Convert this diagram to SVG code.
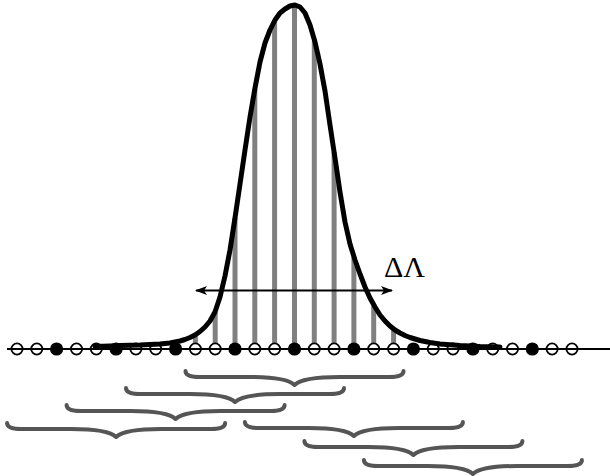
<svg xmlns="http://www.w3.org/2000/svg" width="610" height="476" viewBox="0 0 610 476">
<style>
.bar{stroke:#808080;stroke-width:5;fill:none}
.base{stroke:#000;stroke-width:2}
.oc{fill:#fff;stroke:#000;stroke-width:1.8}
.fc{fill:#000}
.curve{fill:none;stroke:#000;stroke-width:5;stroke-linejoin:round;stroke-linecap:round}
.arr{stroke:#000;stroke-width:2;marker-start:url(#ah);marker-end:url(#ah)}
.brace{fill:none;stroke:#555;stroke-width:4;stroke-linecap:round;stroke-linejoin:round}
.lbl{font-family:"Liberation Serif","Times New Roman",serif;font-size:30px;fill:#000}
</style>
<defs>
<marker id="ah" viewBox="0 0 12 10" refX="11" refY="5" markerWidth="12" markerHeight="10" markerUnits="userSpaceOnUse" orient="auto-start-reverse">
<path d="M0,0.5 L12,5 L0,9.5 L3,5 z" fill="#000"/>
</marker>
<path id="br" d="M-109,-1 C-109,4 -103,5 -95,5 L-45,5 C-20,5 -5,8 0,13 C5,8 20,5 45,5 L95,5 C103,5 109,4 109,-1"/>
</defs>
<rect width="610" height="476" fill="#fff"/>
<g id="bars">
<line class="bar" x1="195.4" y1="349" x2="195.4" y2="334"/>
<line class="bar" x1="215.2" y1="349" x2="215.2" y2="312"/>
<line class="bar" x1="235" y1="349" x2="235" y2="218"/>
<line class="bar" x1="254.8" y1="349" x2="254.8" y2="89"/>
<line class="bar" x1="274.6" y1="349" x2="274.6" y2="21"/>
<line class="bar" x1="294.5" y1="349" x2="294.5" y2="6"/>
<line class="bar" x1="314.3" y1="349" x2="314.3" y2="41"/>
<line class="bar" x1="334.1" y1="349" x2="334.1" y2="152"/>
<line class="bar" x1="353.9" y1="349" x2="353.9" y2="257"/>
<line class="bar" x1="373.7" y1="349" x2="373.7" y2="306"/>
<line class="bar" x1="393.6" y1="349" x2="393.6" y2="329"/>
</g>
<g id="samples">
<circle class="oc" cx="17" cy="349" r="5.6"/>
<circle class="oc" cx="36.8" cy="349" r="5.6"/>
<circle class="fc" cx="56.6" cy="349" r="6.6"/>
<circle class="oc" cx="76.5" cy="349" r="5.6"/>
<circle class="oc" cx="96.3" cy="349" r="5.6"/>
<circle class="fc" cx="116.1" cy="349" r="6.6"/>
<circle class="oc" cx="135.9" cy="349" r="5.6"/>
<circle class="oc" cx="155.7" cy="349" r="5.6"/>
<circle class="fc" cx="175.6" cy="349" r="6.6"/>
<circle class="oc" cx="195.4" cy="349" r="5.6"/>
<circle class="oc" cx="215.2" cy="349" r="5.6"/>
<circle class="fc" cx="235" cy="349" r="6.6"/>
<circle class="oc" cx="254.8" cy="349" r="5.6"/>
<circle class="oc" cx="274.6" cy="349" r="5.6"/>
<circle class="fc" cx="294.5" cy="349" r="6.6"/>
<circle class="oc" cx="314.3" cy="349" r="5.6"/>
<circle class="oc" cx="334.1" cy="349" r="5.6"/>
<circle class="fc" cx="353.9" cy="349" r="6.6"/>
<circle class="oc" cx="373.7" cy="349" r="5.6"/>
<circle class="oc" cx="393.6" cy="349" r="5.6"/>
<circle class="fc" cx="413.4" cy="349" r="6.6"/>
<circle class="oc" cx="433.2" cy="349" r="5.6"/>
<circle class="oc" cx="453" cy="349" r="5.6"/>
<circle class="fc" cx="472.9" cy="349" r="6.6"/>
<circle class="oc" cx="492.7" cy="349" r="5.6"/>
<circle class="oc" cx="512.5" cy="349" r="5.6"/>
<circle class="fc" cx="532.3" cy="349" r="6.6"/>
<circle class="oc" cx="552.1" cy="349" r="5.6"/>
<circle class="oc" cx="572" cy="349" r="5.6"/>
</g>
<g id="axis">
<line class="base" x1="7" y1="349" x2="610" y2="349"/>
</g>
<g id="curve">
<polyline class="curve" points="95,346.5 110,346 120,345.5 140,345 160,344 170,343 180,341 185,339.5 190,337.5 195,335 200,331.5 205,327 210,321 215,312 220,297 225,276 230,250 235,218 240,184 245,150 250,117 255,88 260,62 265,43 270,30 275,20 280,13 285,9 290,6 295,5 300,7 305,13 310,25 315,42 320,64 325,91 330,125 335,158 340,192 345,222 350,244 355,260 360,274 365,287 370,298 375,307 380,315 385,321 390,326 395,330 400,333 405,335.5 410,337.5 420,340.5 430,342.5 440,344 460,345.5 480,346.5 500,347"/>
</g>
<g id="width">
<line class="arr" x1="196" y1="290.5" x2="392" y2="290.5"/>
<text class="lbl" x="384" y="277">ΔΛ</text>
</g>
<g id="braces" class="brace">
<use href="#br" x="294.5" y="372"/>
<use href="#br" x="235" y="389"/>
<use href="#br" x="175.6" y="406"/>
<use href="#br" x="116.1" y="424"/>
<use href="#br" x="353.9" y="423"/>
<use href="#br" x="413.4" y="442"/>
<use href="#br" x="472.9" y="461"/>
</g>
</svg>
